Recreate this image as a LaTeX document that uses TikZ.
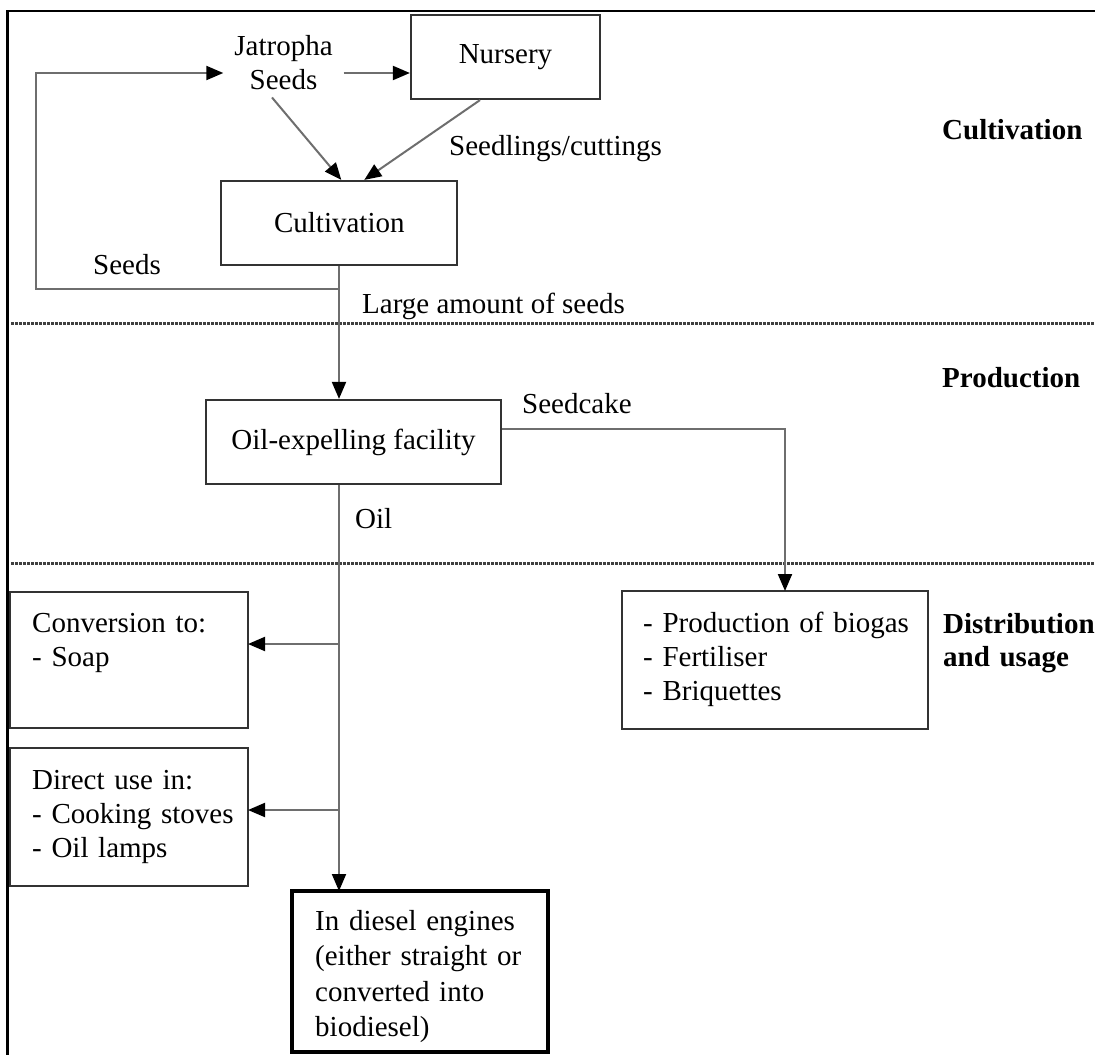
\documentclass[tikz,border=0pt]{standalone}
\usepackage{fontspec}
\setmainfont{Liberation Serif}
\usetikzlibrary{arrows.meta,calc}
\definecolor{boxgray}{HTML}{333333}
\definecolor{linegray}{HTML}{6E6E6E}
\definecolor{sepgray}{HTML}{404040}
\begin{document}
\begin{tikzpicture}[x=1pt,y=-1pt,
  txt/.style={font=\fontsize{29}{34}\selectfont, inner sep=0pt},
  lbl/.style={txt, anchor=base west},
  sect/.style={inner sep=0pt, font=\fontsize{29}{33}\selectfont\bfseries, anchor=base west},
  boxn/.style={draw=boxgray, line width=2.2pt, minimum height=84pt, inner sep=0pt, font=\fontsize{29}{34}\selectfont},
  bigbox/.style={draw=boxgray, line width=2.2pt, anchor=north west, inner sep=0pt, outer sep=0pt},
  conn/.style={draw=linegray, line width=2pt},
  arr/.style={conn, -{Triangle[length=17pt,width=14pt,fill=black,color=black]}},
  sepline/.style={draw=sepgray, line width=3pt, dash pattern=on 2.5pt off 1.5pt},
]
\useasboundingbox (0,0) rectangle (1095,1055);
% frame
\draw[black, line width=2.5pt] (1095,11) -- (7.5,11) -- (7.5,1055);
% separators
\draw[sepline] (11,323) -- (1095,323);
\draw[sepline] (11,563) -- (1095,563);

% nodes
\node[boxn, minimum width=189pt] (nur) at (505.5,57) {Nursery};
\node[boxn, minimum width=236pt] (cult) at (339.3,223) {Cultivation};
\node[boxn, minimum width=295pt] (oil) at (353.5,442) {Oil-expelling facility};
\node[txt, text width=100pt, align=center, anchor=base, inner xsep=10pt, inner ysep=8pt] (jat) at (283.5,55) {Jatropha\\Seeds};

\node[bigbox, minimum width=238pt, minimum height=136pt] (conv) at (10,592) {};
\node[txt, text width=210pt, align=left, anchor=base west] (convt) at (32,632) {Conversion to:\\- Soap};

\node[bigbox, minimum width=238pt, minimum height=138pt] (dir) at (10,748) {};
\node[txt, text width=210pt, align=left, anchor=base west] (dirt) at (32,789) {Direct use in:\\- Cooking stoves\\- Oil lamps};

\node[bigbox, draw=black, line width=3.5pt, minimum width=256pt, minimum height=161pt] (dies) at (292,891) {};
\node[txt, text width=230pt, align=left, anchor=base west, font=\fontsize{29}{35.5}\selectfont] (diest) at (315,930) {In diesel engines\\(either straight or\\converted into\\biodiesel)};

\node[bigbox, minimum width=306pt, minimum height=138pt] (bio) at (622,591) {};
\node[txt, text width=285pt, align=left, anchor=base west] (biot) at (643,632) {- Production of biogas\\- Fertiliser\\- Briquettes};

% labels
\node[lbl] (lseedl) at (449,155) {Seedlings/cuttings};
\node[lbl, anchor=base] (lseeds) at (127,274) {Seeds};
\node[lbl] (llarge) at (362,313) {Large amount of seeds};
\node[lbl] (lcake) at (522,413) {Seedcake};
\node[lbl] (loil) at (355,528) {Oil};
\node[sect] (scult) at (942,139) {Cultivation};
\node[sect] (sprod) at (942,387) {Production};
\node[sect, text width=152pt, align=left] (sdist) at (943,633) {Distribution\\and usage};

% coordinates
\coordinate (trunkx) at (339,0);
\coordinate (jrow) at (0,73);
\coordinate (loopj) at (339,289);
\coordinate (loopc) at (36,289);
\coordinate (convin) at ([yshift=16pt]conv.east);
\coordinate (dirin) at ([yshift=7pt]dir.east);

% connectors
\draw[arr] (cult.south -| trunkx) -- (oil.north -| trunkx);
\draw[arr] (loopj) -- (loopc) |- (jat.west |- jrow);
\draw[arr] (jat.east |- jrow) -- (nur.west |- jrow);
\draw[arr] ([xshift=-11.5pt]jat.south) -- ([xshift=2pt]cult.north);
\draw[arr] ([xshift=-25.5pt]nur.south) -- ([xshift=25pt]cult.north);
\draw[arr] ([yshift=13pt]oil.east) -| ([xshift=10pt]bio.north);
\draw[arr] (oil.south -| trunkx) -- (dies.north -| trunkx);
\draw[arr] (convin -| trunkx) -- (convin);
\draw[arr] (dirin -| trunkx) -- (dirin);
\end{tikzpicture}
\end{document}
